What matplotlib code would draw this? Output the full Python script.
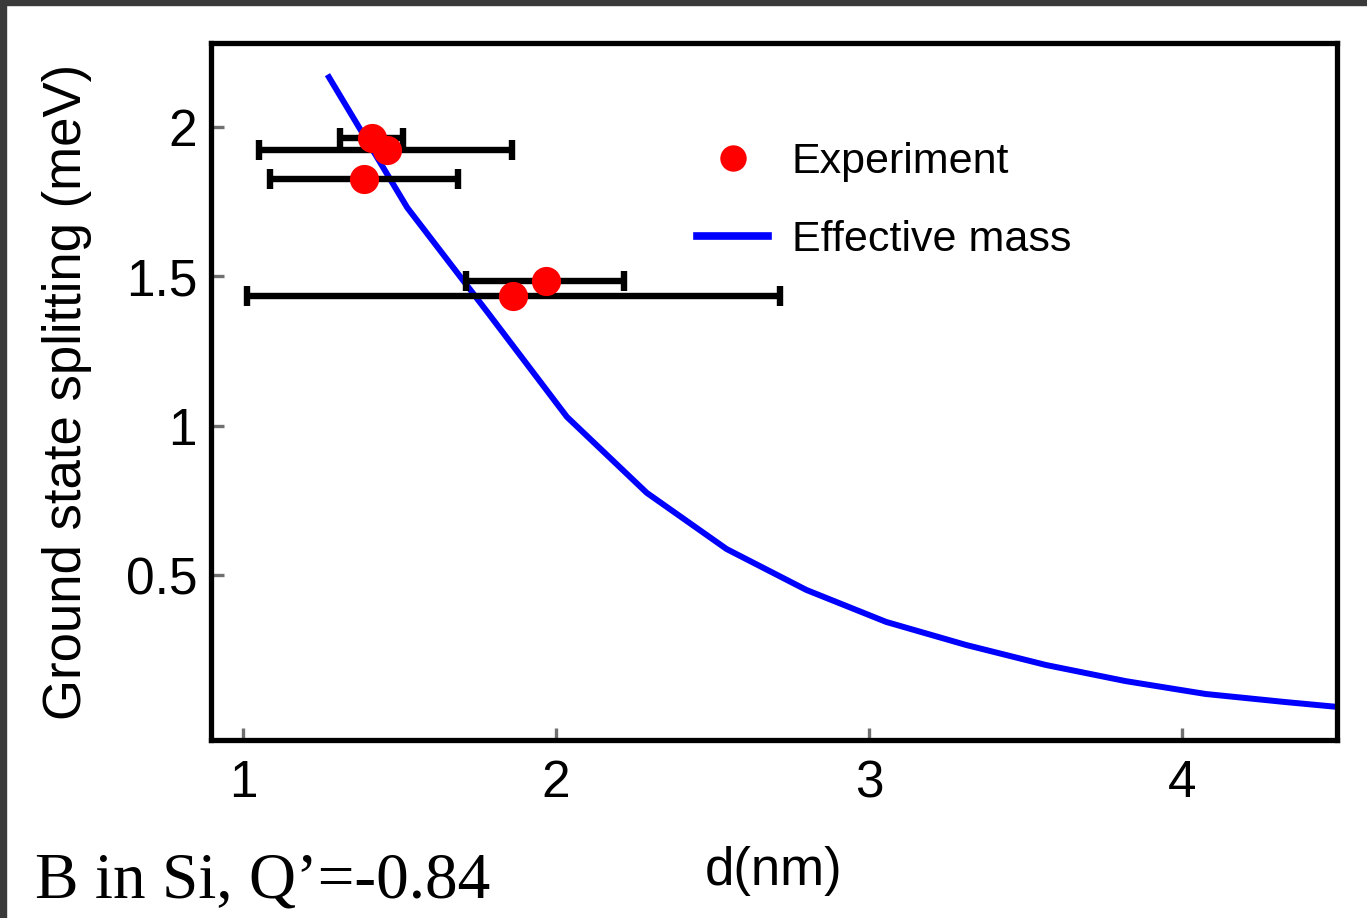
import matplotlib.pyplot as plt
from matplotlib.lines import Line2D
from matplotlib.patches import Rectangle

# experiment points: d (nm), splitting (meV), x error bounds
exp_d = [1.412, 1.46, 1.387, 1.968, 1.863]
exp_e = [1.963, 1.923, 1.826, 1.484, 1.434]
exp_lo = [1.31, 1.051, 1.086, 1.712, 1.013]
exp_hi = [1.511, 1.859, 1.687, 2.217, 2.716]

# effective mass curve
em_d = [1.27, 1.525, 1.78, 2.035, 2.29, 2.545, 2.80, 3.055, 3.31, 3.565, 3.82, 4.075, 4.33, 4.585]
em_e = [2.174, 1.729, 1.381, 1.029, 0.775, 0.587, 0.45, 0.343, 0.266, 0.199, 0.145, 0.102, 0.075, 0.05]

xticks = [1, 2, 3, 4]
yticks = [0.5, 1, 1.5, 2]
ytick_labels = ["0.5", "1", "1.5", "2"]

plt.rcParams['font.family'] = ['Liberation Sans', 'DejaVu Sans']

fig = plt.figure(figsize=(13.67, 9.18), dpi=100)
ax = fig.add_axes([211/1367, 1 - 740/918, (1337-211)/1367, (740-43)/918])

ax.plot(em_d, em_e, color='#0000ff', lw=4.3, zorder=2, solid_capstyle='butt')

xerr = [[d - lo for d, lo in zip(exp_d, exp_lo)], [hi - d for d, hi in zip(exp_d, exp_hi)]]
ax.errorbar(exp_d, exp_e, xerr=xerr, fmt='none', ecolor='black', elinewidth=4.6,
            capsize=7, capthick=4.6, zorder=3)
ax.plot(exp_d, exp_e, 'o', color='#ff0000', ms=21, mew=0, zorder=4)

ax.set_xlim(0.898, 4.495)
ax.set_ylim(-0.052, 2.28)
ax.set_xticks(xticks)
ax.set_xticklabels([str(t) for t in xticks])
ax.set_yticks(yticks)
ax.set_yticklabels(ytick_labels)
ax.tick_params(direction='in', length=9, width=2.4, color='#707070', labelsize=37, pad=14)
ax.tick_params(axis='y', pad=10)
for s in ax.spines.values():
    s.set_linewidth(3.8)
    s.set_color('black')

ax.set_ylabel("Ground state splitting (meV)", fontsize=38, labelpad=24)
fig.text(774/1367, 1 - 871/918, "d(nm)", fontsize=38, ha='center', va='center')
fig.text(35/1367, 1 - 898/918, "B in Si, Q\u2019=-0.84", fontsize=47,
         family='Liberation Serif', ha='left', va='baseline')

handles = [Line2D([], [], ls='none', marker='o', color='#ff0000', ms=19, mew=0),
           Line2D([], [], color='#0000ff', lw=5.5)]
fig.legend(handles, ["Experiment", "Effective mass"], loc='center left',
           bbox_to_anchor=(697/1367, 1 - 201/918), frameon=False, fontsize=31,
           borderpad=0, borderaxespad=0, handlelength=1.65, handletextpad=0.55,
           labelspacing=0.88)

# dark screenshot border
fig.patches.append(Rectangle((0, 1 - 5/918), 1, 5/918, transform=fig.transFigure,
                             color='#3a3a3a', zorder=10))
fig.patches.append(Rectangle((0, 0), 6/1367, 1, transform=fig.transFigure,
                             color='#3a3a3a', zorder=10))

fig.savefig("out.png", dpi=100)
